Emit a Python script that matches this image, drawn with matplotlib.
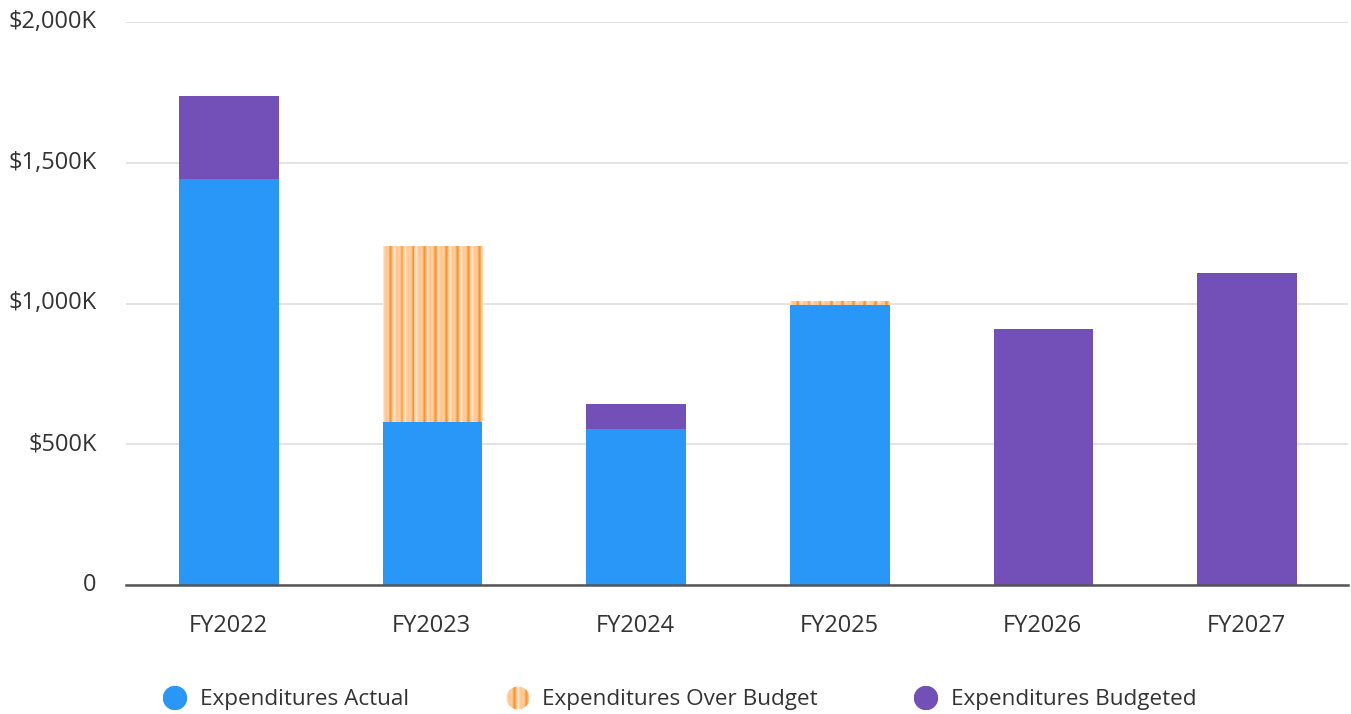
import matplotlib.pyplot as plt
import numpy as np
from matplotlib.patches import Circle
from matplotlib.colors import LinearSegmentedColormap
from matplotlib.transforms import ScaledTranslation

plt.rcParams['font.family'] = ['Open Sans', 'DejaVu Sans']

years = ['FY2022', 'FY2023', 'FY2024', 'FY2025', 'FY2026', 'FY2027']
actual = [1442, 579, 554, 995, 0, 0]
over_budget = [0, 625, 0, 14, 0, 0]
budgeted_extra = [295, 0, 89, 0, 909, 1108]
yticks = [0, 500, 1000, 1500, 2000]
ytick_labels = ['0', '$500K', '$1,000K', '$1,500K', '$2,000K']

c_actual = '#2897F7'
c_budget = '#7350B7'
stripe_cmap = LinearSegmentedColormap.from_list(
    'stripes', ['#FFE6CC', '#FFC58E', '#F7962F'])
# stripe texture profile, one period
stripe_profile = np.array([0.05, 0.3, 0.45, 0.5, 0.45, 0.4, 0.55, 0.8, 1.0, 0.8, 0.5, 0.25])

fig = plt.figure(figsize=(13.51, 7.14), dpi=100)
ax = fig.add_axes([126 / 1351, 129 / 714, 1222 / 1351, 563 / 714])

x = np.arange(len(years))
w = 0.49
actual = np.array(actual)
over_budget = np.array(over_budget)
budgeted_extra = np.array(budgeted_extra)

ax.bar(x + 0.005, actual, w, color=c_actual, zorder=3)
ob = ax.bar(x + 0.005, over_budget, w, bottom=actual, color='none', zorder=3)
ax.bar(x + 0.005, budgeted_extra, w, bottom=actual + over_budget, color=c_budget, zorder=3)

# striped fill for over-budget bars
texture = np.tile(stripe_profile, 9)[None, :]
for rect, v in zip(ob.patches, over_budget):
    if v <= 0:
        continue
    x0, y0 = rect.get_x(), rect.get_y()
    im = ax.imshow(texture, cmap=stripe_cmap, aspect='auto', interpolation='nearest',
                   extent=(x0, x0 + rect.get_width(), y0, y0 + rect.get_height()), zorder=3)
    im.set_clip_path(rect)

ax.set_xlim(-0.5, len(years) - 0.5)
ax.set_ylim(0, 2000)
ax.set_yticks(yticks)
ax.set_yticklabels(ytick_labels)
ax.set_xticks(x)
ax.set_xticklabels(years)
ax.tick_params(axis='y', length=0, pad=21, labelsize=17, labelcolor='#333333')
ax.tick_params(axis='x', length=0, pad=21, labelsize=17, labelcolor='#333333')
# nudge y labels up a little, like the reference
for lab in ax.get_yticklabels():
    lab.set_transform(lab.get_transform() + ScaledTranslation(0, 3 / 100, fig.dpi_scale_trans))
ax.grid(axis='y', color='#e3e3e3', linewidth=1.4, zorder=0)
for s in ['top', 'right', 'left']:
    ax.spines[s].set_visible(False)
ax.spines['bottom'].set_color('#555555')
ax.spines['bottom'].set_linewidth(1.8)
ax.spines['bottom'].set_zorder(4)

# legend drawn by hand
ly = 1 - 698 / 714
entries = [(175, 200, 'Expenditures Actual', c_actual),
           (518, 542, 'Expenditures Over Budget', None),
           (926, 951, 'Expenditures Budgeted', c_budget)]
for cx, tx, label, col in entries:
    lax = fig.add_axes([(cx - 12) / 1351, ly - 12 / 714, 24 / 1351, 24 / 714])
    lax.axis('off')
    lax.set_xlim(0, 1)
    lax.set_ylim(0, 1)
    if col is not None:
        lax.add_patch(Circle((0.5, 0.5), 0.48, color=col))
    else:
        im = lax.imshow(np.tile(stripe_profile, 2)[None, :], cmap=stripe_cmap, aspect='auto',
                        interpolation='bilinear', extent=(0, 1, 0, 1))
        circ = Circle((0.5, 0.5), 0.48, facecolor='none', edgecolor='none')
        lax.add_patch(circ)
        im.set_clip_path(circ)
    fig.text(tx / 1351, ly - 2 / 714, label, fontsize=16.2, color='#333333', va='center', ha='left')

fig.savefig('out.png', dpi=100)
